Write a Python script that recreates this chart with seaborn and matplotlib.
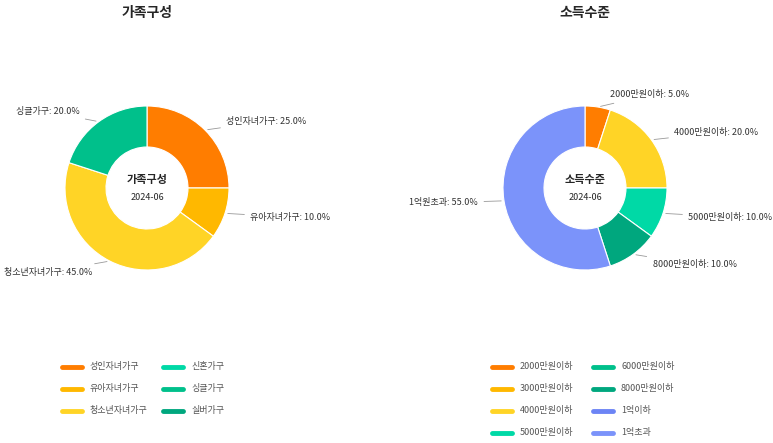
import matplotlib.pyplot as plt
import seaborn as sns
import numpy as np

sns.set_style("white")
plt.rcParams["font.family"] = "Noto Sans CJK KR"

family_names = ["성인자녀가구", "유아자녀가구", "청소년자녀가구", "싱글가구"]
family_vals = [25.0, 10.0, 45.0, 20.0]
family_colors = ["#FF7D00", "#FFB800", "#FFD426", "#00C08B"]
family_legend = ["성인자녀가구", "유아자녀가구", "청소년자녀가구", "신혼가구", "싱글가구", "실버가구"]
family_legend_colors = ["#FF7D00", "#FFB800", "#FFD426", "#00D9A6", "#00C08B", "#00A77E"]

income_names = ["2000만원이하", "4000만원이하", "5000만원이하", "8000만원이하", "1억원초과"]
income_vals = [5.0, 20.0, 10.0, 10.0, 55.0]
income_colors = ["#FF7D00", "#FFD426", "#00D9A6", "#00A77E", "#7B93FA"]
income_legend = ["2000만원이하", "3000만원이하", "4000만원이하", "5000만원이하",
                 "6000만원이하", "8000만원이하", "1억이하", "1억초과"]
income_legend_colors = ["#FF7D00", "#FFB800", "#FFD426", "#00D9A6",
                        "#00C08B", "#00A77E", "#6C84F5", "#7B93FA"]

W, H = 773, 443
fig = plt.figure(figsize=(W / 100, H / 100), dpi=100)


def donut(cx, cy, r, names, vals, colors, title):
    ax = fig.add_axes([(cx - r) / W, 1 - (cy + r) / H, 2 * r / W, 2 * r / H])
    wedges, _ = ax.pie(vals, colors=colors, startangle=90, counterclock=False,
                       radius=1, wedgeprops=dict(width=0.5, edgecolor="white", linewidth=0.8))
    ax.set_xlim(-1, 1)
    ax.set_ylim(-1, 1)
    ax.axis("off")
    ax.text(0, 0.1, title, ha="center", va="center", fontsize=8, fontweight="bold")
    ax.text(0, -0.12, "2024-06", ha="center", va="center", fontsize=6.5)
    for w, n, v in zip(wedges, names, vals):
        a = np.deg2rad((w.theta1 + w.theta2) / 2)
        x, y = np.cos(a), np.sin(a)
        side = 1 if x >= 0 else -1
        ax.annotate(f"{n}: {v:.1f}%", xy=(x, y), xytext=(1.2 * x + 0.12 * side, 1.15 * y),
                    ha="left" if side > 0 else "right", va="center", fontsize=6.5,
                    color="#333333", annotation_clip=False,
                    arrowprops=dict(arrowstyle="-", color="#999999", lw=0.6))
    fig.text(cx / W, 1 - 13 / H, title, ha="center", va="center", fontsize=10, fontweight="bold")


donut(147, 188, 82, family_names, family_vals, family_colors, "가족구성")
donut(585, 188, 82, income_names, income_vals, income_colors, "소득수준")


def legend(x0, y0, names, colors, per_col):
    for i, (n, c) in enumerate(zip(names, colors)):
        col, row = divmod(i, per_col)
        x = x0 + col * 101
        y = y0 + row * 22
        fig.add_artist(plt.Line2D([x / W, (x + 20) / W], [1 - y / H, 1 - y / H],
                                  color=c, lw=3.5, transform=fig.transFigure))
        fig.text((x + 28) / W, 1 - y / H, n, va="center", fontsize=6.5, color="#555555")


legend(62, 367, family_legend, family_legend_colors, 3)
legend(492, 367, income_legend, income_legend_colors, 4)

fig.savefig("out.png", dpi=100)
